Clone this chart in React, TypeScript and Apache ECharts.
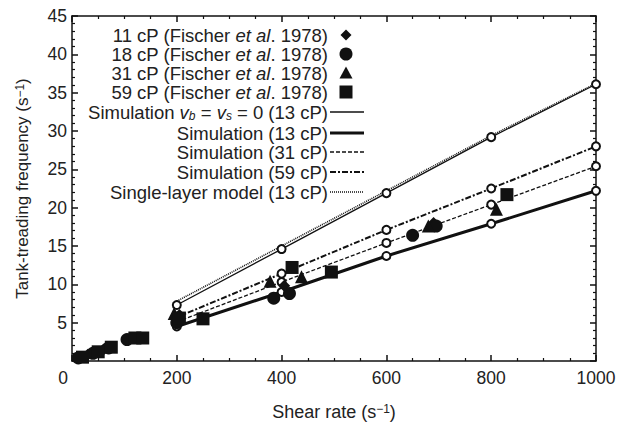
import React, { useEffect, useRef } from "react";
import * as echarts from "echarts";

const FONT = "'Liberation Sans', Arial, Helvetica, sans-serif";

// Simulation results (shear rate, tank-treading frequency)
const simX = [200, 400, 600, 800, 1000];
const simVb0 = [7.3, 14.6, 21.9, 29.2, 36.1];
const simSingle = [7.8, 15.0, 22.2, 29.4, 36.2];
const sim13 = [4.5, 9.0, 13.7, 17.9, 22.2];
const sim31 = [5.1, 10.3, 15.4, 20.4, 25.4];
const sim59 = [5.7, 11.4, 17.1, 22.5, 28.0];

// Experimental data (Fischer et al. 1978)
const fischer11X = [30, 60, 110, 205, 405, 690];
const fischer11Y = [0.8, 1.5, 2.9, 6.0, 9.8, 18.0];
const fischer18X = [12, 40, 70, 105, 200, 385, 415, 650, 695];
const fischer18Y = [0.4, 1.0, 1.7, 2.8, 5.0, 8.2, 8.8, 16.4, 17.6];
const fischer31X = [195, 378, 438, 680, 810];
const fischer31Y = [6.2, 10.4, 11.0, 17.6, 19.8];
const fischer59X = [20, 50, 75, 120, 135, 205, 250, 420, 495, 830];
const fischer59Y = [0.5, 1.2, 1.8, 3.0, 3.0, 5.6, 5.5, 12.2, 11.6, 21.7];

const zip = (xs: number[], ys: number[]) => xs.map((x, i) => [x, ys[i]]);

const legendRows = [
  { text: "11 cP (Fischer {i|et al}. 1978)", kind: "diamond" },
  { text: "18 cP (Fischer {i|et al}. 1978)", kind: "circle" },
  { text: "31 cP (Fischer {i|et al}. 1978)", kind: "triangle" },
  { text: "59 cP (Fischer {i|et al}. 1978)", kind: "square" },
  { text: "Simulation {i|v}{sb|b} = {i|v}{sb|s} = 0 (13 cP)", kind: "vb" },
  { text: "Simulation (13 cP)", kind: "s13" },
  { text: "Simulation (31 cP)", kind: "s31" },
  { text: "Simulation (59 cP)", kind: "s59" },
  { text: "Single-layer model (13 cP)", kind: "single" },
];
const legendYs = [35, 54, 73, 92, 112, 133, 152, 172, 192];

const lineStyles: Record<string, any> = {
  vb: { color: "#111", width: 1.3, type: "solid" },
  s13: { color: "#111", width: 3, type: "solid" },
  s31: { color: "#111", width: 1.3, type: [4, 2] },
  s59: { color: "#111", width: 2, type: [6, 2, 2, 2] },
  single: { color: "#111", width: 1.6, type: [1, 1] },
};

const LF = 18.5; // legend font size

export default function App() {
  const ref = useRef<HTMLDivElement>(null);
  useEffect(() => {
    if (!ref.current) return;
    const chart = echarts.init(ref.current, undefined, { renderer: "svg" });

    const rich = {
      i: { fontStyle: "italic", fontSize: LF, fontFamily: FONT, fill: "#222" },
      sb: { fontStyle: "italic", fontSize: 12, fontFamily: FONT, verticalAlign: "bottom", lineHeight: 4 },
    };

    const graphics: any[] = [];
    const textRight = 328;
    const mx = 346;
    legendRows.forEach((row, k) => {
      const y = legendYs[k];
      graphics.push({
        type: "text",
        x: textRight,
        y,
        style: {
          text: row.text,
          fontSize: LF,
          fontFamily: FONT,
          fill: "#222",
          align: "right",
          verticalAlign: "middle",
          rich,
        },
      });
      const fill = "#111";
      if (row.kind === "diamond") {
        graphics.push({ type: "polygon", shape: { points: [[mx, y - 5.5], [mx + 5.5, y], [mx, y + 5.5], [mx - 5.5, y]] }, style: { fill } });
      } else if (row.kind === "circle") {
        graphics.push({ type: "circle", shape: { cx: mx, cy: y, r: 6.5 }, style: { fill } });
      } else if (row.kind === "triangle") {
        graphics.push({ type: "polygon", shape: { points: [[mx, y - 6.5], [mx + 6.5, y + 5.5], [mx - 6.5, y + 5.5]] }, style: { fill } });
      } else if (row.kind === "square") {
        graphics.push({ type: "rect", shape: { x: mx - 6.5, y: y - 6.5, width: 13, height: 13 }, style: { fill } });
      } else {
        const ls = lineStyles[row.kind];
        graphics.push({
          type: "line",
          shape: { x1: 330, y1: y, x2: 364, y2: y },
          style: { stroke: ls.color, lineWidth: ls.width, lineDash: Array.isArray(ls.type) ? ls.type : null },
        });
      }
    });

    const simSeries = (name: string, ys: number[], kind: string, markers: boolean) => ({
      name,
      type: "line",
      data: zip(simX, ys),
      symbol: markers ? "emptyCircle" : "none",
      symbolSize: 8,
      showSymbol: markers,
      itemStyle: { color: "#111", borderColor: "#111", borderWidth: 1.2 },
      lineStyle: lineStyles[kind],
      z: 2,
    });

    const pts = (name: string, xs: number[], ys: number[], symbol: string, size: number) => ({
      name,
      type: "scatter",
      data: zip(xs, ys),
      symbol,
      symbolSize: size,
      itemStyle: { color: "#111", opacity: 1 },
      z: 3,
    });

    const axisCommon = {
      type: "value",
      axisLine: { show: true, onZero: false, lineStyle: { color: "#111", width: 1.5 } },
      axisTick: { show: true, inside: true, length: 6, lineStyle: { color: "#111", width: 1.5 } },
      minorTick: { show: true, length: 3, lineStyle: { color: "#111", width: 1.2 } },
      splitLine: { show: false },
      minorSplitLine: { show: false },
    };

    const supRich = { sup: { fontSize: 12, fontFamily: FONT, color: "#222", verticalAlign: "top", lineHeight: 4 } };

    const option: any = {
      animation: false,
      backgroundColor: "#fff",
      grid: { left: 72, right: 31, top: 16, bottom: 53, containLabel: false },
      xAxis: [
        {
          ...axisCommon,
          min: 0,
          max: 1000,
          interval: 200,
          minorTick: { ...axisCommon.minorTick, splitNumber: 4 },
          position: "bottom",
          axisLabel: {
            fontSize: 17.5,
            fontFamily: FONT,
            color: "#222",
            margin: 8,
            formatter: (v: number) => (v === 0 ? "{z|0}" : String(v)),
            rich: { z: { fontSize: 17.5, fontFamily: FONT, color: "#222", padding: [0, 18, 0, 0] } },
          },
          name: "Shear rate (s{sup|−1})",
          nameLocation: "middle",
          nameGap: 42,
          nameTextStyle: { fontSize: 18, fontFamily: FONT, color: "#222", rich: supRich },
        },
        {
          ...axisCommon,
          min: 0,
          max: 1000,
          interval: 200,
          minorTick: { ...axisCommon.minorTick, splitNumber: 4 },
          position: "top",
          axisLabel: { show: false },
        },
      ],
      yAxis: [
        {
          ...axisCommon,
          min: 0,
          max: 45,
          interval: 5,
          minorTick: { ...axisCommon.minorTick, splitNumber: 5 },
          position: "left",
          axisLabel: {
            fontSize: 17.5,
            fontFamily: FONT,
            color: "#222",
            margin: 5,
            formatter: (v: number) => (v === 0 ? "" : String(v)),
          },
          name: "Tank-treading frequency (s{sup|−1})",
          nameLocation: "middle",
          nameGap: 41,
          nameRotate: 90,
          nameTextStyle: { fontSize: 17, fontFamily: FONT, color: "#222", rich: supRich },
        },
        {
          ...axisCommon,
          min: 0,
          max: 45,
          interval: 5,
          minorTick: { ...axisCommon.minorTick, splitNumber: 5 },
          position: "right",
          axisLabel: { show: false },
        },
      ],
      series: [
        simSeries("Single-layer model (13 cP)", simSingle, "single", false),
        simSeries("Simulation vb = vs = 0 (13 cP)", simVb0, "vb", true),
        simSeries("Simulation (13 cP)", sim13, "s13", true),
        simSeries("Simulation (31 cP)", sim31, "s31", true),
        simSeries("Simulation (59 cP)", sim59, "s59", true),
        pts("11 cP", fischer11X, fischer11Y, "diamond", 12),
        pts("18 cP", fischer18X, fischer18Y, "circle", 13),
        pts("31 cP", fischer31X, fischer31Y, "triangle", 13),
        pts("59 cP", fischer59X, fischer59Y, "rect", 13),
      ],
      graphic: graphics,
    };
    chart.setOption(option);
    return () => chart.dispose();
  }, []);
  return (
    <div
      ref={ref}
      style={{ position: "fixed", left: 0, top: 0, width: 627, height: 426, background: "#fff" }}
    />
  );
}
